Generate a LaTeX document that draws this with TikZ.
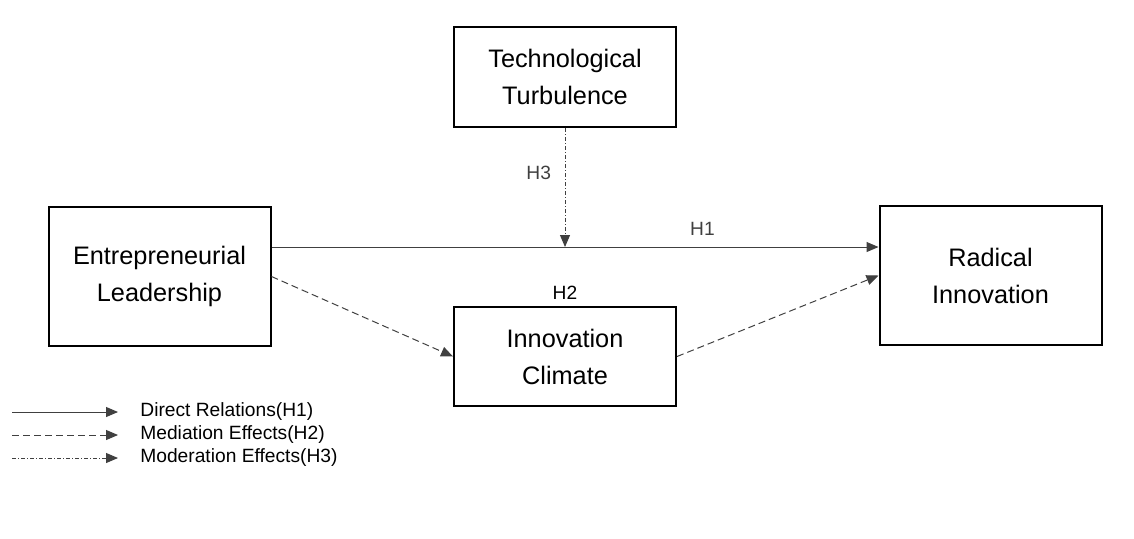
\documentclass[tikz,border=0pt]{standalone}
\usepackage{fontspec}
\setmainfont{Liberation Sans}
\usetikzlibrary{arrows.meta, positioning}
\definecolor{linegray}{HTML}{404040}

\begin{document}
\begin{tikzpicture}[
    x=0.5pt, y=-0.5pt,
    construct/.style={rectangle, draw=black, line width=1pt, minimum width=111pt,
                      align=center, inner sep=0pt, font=\fontsize{12.65}{18.5}\selectfont},
    hlabel/.style={font=\fontsize{9.6}{11}\selectfont, inner sep=0pt},
    direct/.style={-{Triangle[length=6pt, width=5pt]}, line width=0.5pt, linegray},
    mediation/.style={direct, dash pattern=on 3.5pt off 2pt},
    moderation/.style={direct, dash pattern=on 2pt off 1pt on 0.5pt off 1pt},
]
    \useasboundingbox (0,0) rectangle (1134,538);

    % Constructs
    \node[construct, minimum height=50pt] (tt) at (565,77) {Technological\\Turbulence};
    \node[construct, minimum height=69.5pt] (el) at (159.5,276.5) {Entrepreneurial\\Leadership};
    \node[construct, minimum height=49.5pt] (ic) at (565,356.5) {Innovation\\Climate};
    \node[construct, minimum height=69.5pt] (ri) at (990.5,275.5) {Radical\\Innovation};

    % Hypotheses
    \coordinate (h1start) at ([yshift=14.75pt]el.east);
    \draw[direct] (h1start) -- node[hlabel, pos=0.71, above=5.75pt]{H1} (h1start -| ri.west);
    \draw[moderation] (tt.south) -- node[hlabel, pos=0.38, left=6.75pt]{H3} (tt.south |- h1start);
    \draw[mediation] (el.east) -- (ic.west);
    \draw[mediation] (ic.east) -- (ri.west);
    \node[hlabel, above=3pt of ic] (h2) {H2};

    % Legend
    \foreach \y/\sty/\txt in {412/direct/Direct Relations(H1),
                              435/mediation/Mediation Effects(H2),
                              458/moderation/Moderation Effects(H3)} {
        \coordinate (leg\y a) at (12,\y);
        \coordinate (leg\y b) at (118,\y);
        \node[hlabel, anchor=west] (leg\y) at (140,\y) {\txt};
        \draw[\sty] (leg\y a) -- (leg\y b);
    }

\end{tikzpicture}
\end{document}
